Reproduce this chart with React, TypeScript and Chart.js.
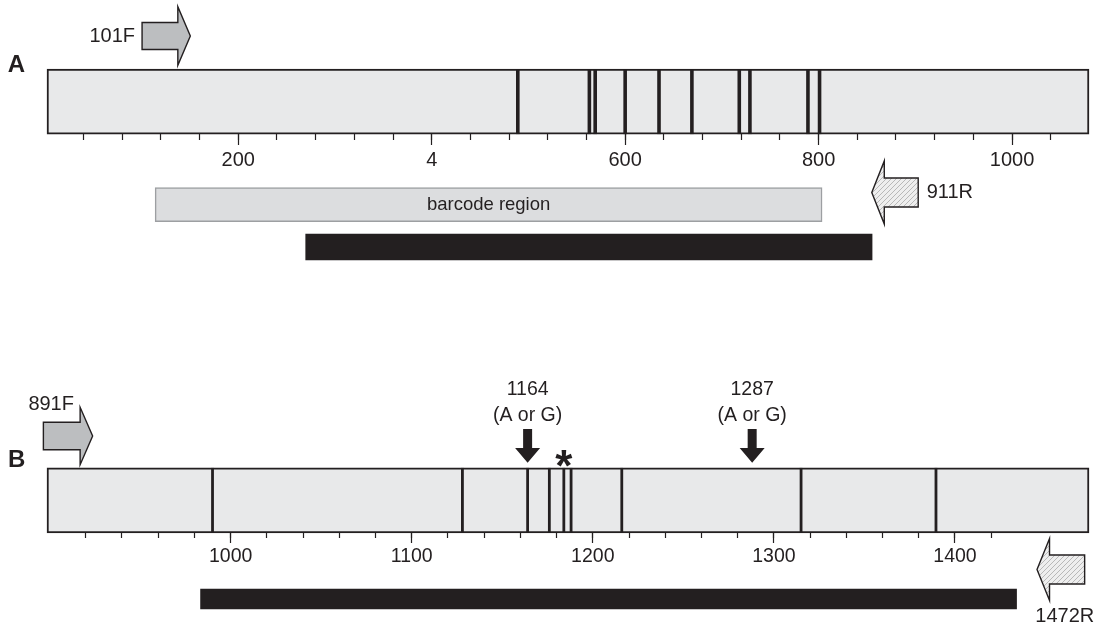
import React, { useEffect, useRef } from 'react';
import { Chart, registerables } from 'chart.js';

Chart.register(...registerables);

const W = 1103;
const H = 626;

// ---------- Panel A (positions in bp) ----------
const rangeA = [2.2, 1079.6];
const majorTicksA = [200, 400, 600, 800, 1000];
const tickLabelsA = ['200', '4', '600', '800', '1000'];
const minorStepA = 40;
const minorRangeA = [40, 1040];
const variantsA = [489, 563, 569, 600, 635, 669, 718, 729, 789, 801];
const barcodeRegionA = [114, 803.6];
const ampliconA = [269.7, 855.3];
const barcodeLabel = 'barcode region';

// ---------- Panel B (positions in bp) ----------
const rangeB = [898.6, 1474];
const majorTicksB = [1000, 1100, 1200, 1300, 1400];
const tickLabelsB = ['1000', '1100', '1200', '1300', '1400'];
const minorStepB = 20;
const minorRangeB = [920, 1420];
const variantsB = [990, 1128, 1164, 1176, 1184, 1188, 1216, 1315, 1389.5];
const ampliconB = [983.4, 1434];
const snpPositions = [1164, 1288];
const snpLabels = ['1164', '1287'];
const snpAlleles = ['(A or G)', '(A or G)'];
const asteriskPositions = [1184];

// ---------- Primers ----------
const primerNames = ['101F', '911R', '891F', '1472R'];
const primerPanels = ['A', 'A', 'B', 'B'];
const primerTails = [100.5, 903, 896.6, 1471.6];
const primerTips = [150.4, 855, 923.8, 1445.3];

// ---------- layout (pixels) ----------
const LAYOUT = {
  left: 47,
  right: 1089,
  A: { box: 101.6, axis: 134, barcode: 204.7, amplicon: 247, letterY: 65.5 },
  B: { box: 500.4, axis: 533, amplicon: 599, letterY: 460 },
  boxH: 65,
  barcodeH: 34,
  ampAH: 26,
  ampBH: 20,
  primerY: [36, 192.5, 436, 569.5],
  primerBodyH: [27, 29, 27.5, 29],
  primerHeadH: [58.5, 63, 57.5, 62],
  primerHeadL: 12.5,
};

const INK = '#231f20';
const BOX_FILL = '#e8e9ea';
const BARCODE_FILL = '#dcdddf';
const FWD_FILL = '#bcbec0';
const FONT = '"Liberation Sans", Arial, Helvetica, sans-serif';

function labelFor(v: number, ticks: number[], labels: string[]) {
  const i = ticks.indexOf(v);
  return i >= 0 ? labels[i] : '';
}

function makeHatch(ctx: CanvasRenderingContext2D) {
  const c = document.createElement('canvas');
  c.width = 5;
  c.height = 5;
  const g = c.getContext('2d')!;
  g.fillStyle = '#eeeeee';
  g.fillRect(0, 0, 5, 5);
  g.strokeStyle = '#b8b8b8';
  g.lineWidth = 1;
  g.beginPath();
  g.moveTo(0, 5); g.lineTo(5, 0);
  g.moveTo(-1, 1); g.lineTo(1, -1);
  g.moveTo(4, 6); g.lineTo(6, 4);
  g.stroke();
  return ctx.createPattern(c, 'repeat');
}

function drawPrimer(ctx: CanvasRenderingContext2D, tailX: number, tipX: number, yc: number,
  bodyH: number, headH: number, headL: number, fill: any) {
  const dir = Math.sign(tipX - tailX);
  const baseX = tipX - dir * headL;
  ctx.beginPath();
  ctx.moveTo(tailX, yc - bodyH / 2);
  ctx.lineTo(baseX, yc - bodyH / 2);
  ctx.lineTo(baseX, yc - headH / 2);
  ctx.lineTo(tipX, yc);
  ctx.lineTo(baseX, yc + headH / 2);
  ctx.lineTo(baseX, yc + bodyH / 2);
  ctx.lineTo(tailX, yc + bodyH / 2);
  ctx.closePath();
  ctx.fillStyle = fill;
  ctx.fill();
  ctx.lineWidth = 1.4;
  ctx.lineJoin = 'miter';
  ctx.strokeStyle = INK;
  ctx.stroke();
}

function drawDownArrow(ctx: CanvasRenderingContext2D, x: number, top: number, base: number, tip: number,
  bodyW: number, headW: number) {
  ctx.beginPath();
  ctx.moveTo(x - bodyW / 2, top);
  ctx.lineTo(x + bodyW / 2, top);
  ctx.lineTo(x + bodyW / 2, base);
  ctx.lineTo(x + headW / 2, base);
  ctx.lineTo(x, tip);
  ctx.lineTo(x - headW / 2, base);
  ctx.lineTo(x - bodyW / 2, base);
  ctx.closePath();
  ctx.fillStyle = INK;
  ctx.fill();
}

// Pin every scale to the intended plotting frame (axes are placed by value inside it).
const framePlugin = {
  id: 'frame',
  afterLayout(chart: any) {
    chart.chartArea = { left: LAYOUT.left, right: LAYOUT.right, top: 0, bottom: H, width: LAYOUT.right - LAYOUT.left, height: H };
    Object.values(chart.scales).forEach((s: any) => {
      if (s.isHorizontal()) {
        s.left = LAYOUT.left; s.right = LAYOUT.right; s.width = LAYOUT.right - LAYOUT.left;
      } else {
        s.top = 0; s.bottom = H; s.height = H;
      }
      s.configure();
    });
  },
};

const annotPlugin = {
  id: 'annotations',
  afterDatasetsDraw(chart: any) {
    const ctx: CanvasRenderingContext2D = chart.ctx;
    const y = chart.scales.y;
    const xA = chart.scales.xA;
    const xB = chart.scales.xB;
    ctx.save();
    ctx.fillStyle = INK;
    ctx.textBaseline = 'middle';

    // panel letters
    ctx.font = `bold 24px ${FONT}`;
    ctx.textAlign = 'center';
    ctx.fillText('A', 16.3, y.getPixelForValue(LAYOUT.A.letterY));
    ctx.fillText('B', 16.7, y.getPixelForValue(LAYOUT.B.letterY));

    // barcode label
    ctx.font = `18.5px ${FONT}`;
    ctx.fillText(barcodeLabel,
      (xA.getPixelForValue(barcodeRegionA[0]) + xA.getPixelForValue(barcodeRegionA[1])) / 2,
      y.getPixelForValue(LAYOUT.A.barcode));

    // primers
    const hatch = makeHatch(ctx);
    primerNames.forEach((name, i) => {
      const sc = primerPanels[i] === 'A' ? xA : xB;
      const tail = sc.getPixelForValue(primerTails[i]);
      const tip = sc.getPixelForValue(primerTips[i]);
      const yc = y.getPixelForValue(LAYOUT.primerY[i]);
      const fwd = tip > tail;
      drawPrimer(ctx, tail, tip, yc, LAYOUT.primerBodyH[i], LAYOUT.primerHeadH[i], LAYOUT.primerHeadL,
        fwd ? FWD_FILL : hatch);
      ctx.fillStyle = INK;
      ctx.font = `20px ${FONT}`;
      if (i === 0) {
        ctx.textAlign = 'right';
        ctx.fillText(name, tail - 7, yc);
      } else if (i === 1) {
        ctx.textAlign = 'left';
        ctx.fillText(name, tail + 8.5, yc);
      } else if (i === 2) {
        ctx.textAlign = 'left';
        ctx.fillText(name, tail - 15, yc - 32);
      } else {
        ctx.textAlign = 'center';
        ctx.fillText(name, (tail + tip) / 2 + 4, yc + 47);
      }
    });

    // SNP arrows
    snpPositions.forEach((p, i) => {
      const x = xB.getPixelForValue(p);
      drawDownArrow(ctx, x, y.getPixelForValue(429), y.getPixelForValue(448), y.getPixelForValue(462.7), 9, 25);
      ctx.fillStyle = INK;
      ctx.font = `19.5px ${FONT}`;
      ctx.textAlign = 'center';
      ctx.fillText(snpLabels[i], x, y.getPixelForValue(390));
      ctx.fillText(snpAlleles[i], x, y.getPixelForValue(415.5));
    });

    // asterisk
    ctx.font = `bold 44px ${FONT}`;
    ctx.textAlign = 'center';
    ctx.textBaseline = 'alphabetic';
    asteriskPositions.forEach((p) => {
      ctx.fillText('*', xB.getPixelForValue(p), y.getPixelForValue(456) + 25);
    });

    ctx.restore();
  },
};

function majorAxis(range: number[], ticks: number[], labels: string[], axisY: number, tickLen: number,
  fontSize: number, pad: number) {
  return {
    type: 'linear',
    axis: 'x',
    min: range[0],
    max: range[1],
    offset: false,
    beginAtZero: false,
    stacked: false,
    position: { y: axisY },
    border: { display: false },
    grid: { offset: false, drawOnChartArea: false, drawTicks: true, tickLength: tickLen, tickColor: INK, tickWidth: 1.2 },
    ticks: {
      autoSkip: false,
      maxRotation: 0,
      padding: pad,
      color: INK,
      font: { family: FONT, size: fontSize },
      callback: (v: number) => labelFor(v, ticks, labels),
    },
    afterBuildTicks: (s: any) => {
      s.ticks = ticks.map((v) => ({ value: v }));
    },
  };
}

function minorAxis(range: number[], step: number, keep: number[], axisY: number, tickLen: number) {
  return {
    type: 'linear',
    axis: 'x',
    min: range[0],
    max: range[1],
    offset: false,
    beginAtZero: false,
    stacked: false,
    position: { y: axisY },
    border: { display: false },
    grid: { offset: false, drawOnChartArea: false, drawTicks: true, tickLength: tickLen, tickColor: INK, tickWidth: 1.2 },
    ticks: { display: false, stepSize: step, includeBounds: false, autoSkip: false },
    afterBuildTicks: (s: any) => {
      s.ticks = s.ticks.filter((t: any) => t.value >= keep[0] - 0.01 && t.value <= keep[1] + 0.01);
    },
  };
}

const rowScale = () => ({
  type: 'linear', axis: 'y', min: 0, max: H, reverse: true, display: false, offset: false,
  grid: { offset: false }, ticks: { stepSize: H },
});

export default function App() {
  const ref = useRef<HTMLCanvasElement>(null);

  useEffect(() => {
    if (!ref.current) return;
    const barBase = { type: 'bar', indexAxis: 'y', yAxisID: 'y', grouped: false, borderSkipped: false, clip: false, order: 3,
      barPercentage: 1, categoryPercentage: 1 };
    const lineBase = {
      type: 'scatter', yAxisID: 'y', pointStyle: 'line', pointRotation: 90, pointRadius: LAYOUT.boxH / 2,
      pointHoverRadius: LAYOUT.boxH / 2, pointBorderColor: INK, pointBackgroundColor: INK, clip: false, order: 1,
    };
    const chart = new Chart(ref.current, {
      type: 'bar',
      data: {
        datasets: [
          { ...barBase, label: 'A sequence', xAxisID: 'xA', data: [{ x: rangeA, y: LAYOUT.A.box }],
            barThickness: LAYOUT.boxH, maxBarThickness: LAYOUT.boxH,
            backgroundColor: BOX_FILL, borderColor: INK, borderWidth: 2 },
          { ...barBase, label: 'barcode region', xAxisID: 'xA', data: [{ x: barcodeRegionA, y: LAYOUT.A.barcode }],
            barThickness: LAYOUT.barcodeH, maxBarThickness: LAYOUT.barcodeH,
            backgroundColor: BARCODE_FILL, borderColor: '#9d9fa2', borderWidth: 1.5 },
          { ...barBase, label: 'A amplicon', xAxisID: 'xA', data: [{ x: ampliconA, y: LAYOUT.A.amplicon }],
            barThickness: LAYOUT.ampAH, maxBarThickness: LAYOUT.ampAH,
            backgroundColor: INK, borderWidth: 0 },
          { ...barBase, label: 'B sequence', xAxisID: 'xB', data: [{ x: rangeB, y: LAYOUT.B.box }],
            barThickness: LAYOUT.boxH, maxBarThickness: LAYOUT.boxH,
            backgroundColor: BOX_FILL, borderColor: INK, borderWidth: 2 },
          { ...barBase, label: 'B amplicon', xAxisID: 'xB', data: [{ x: ampliconB, y: LAYOUT.B.amplicon }],
            barThickness: LAYOUT.ampBH, maxBarThickness: LAYOUT.ampBH,
            backgroundColor: INK, borderWidth: 0 },
          { ...lineBase, label: 'A variants', xAxisID: 'xA', data: variantsA.map((v) => ({ x: v, y: LAYOUT.A.box })), pointBorderWidth: 3.6 },
          { ...lineBase, label: 'B variants', xAxisID: 'xB', data: variantsB.map((v) => ({ x: v, y: LAYOUT.B.box })), pointBorderWidth: 2.8 },
        ] as any,
      },
      options: {
        responsive: false,
        animation: false,
        events: [],
        layout: { padding: 0 },
        plugins: { legend: { display: false }, tooltip: { enabled: false }, title: { display: false } },
        scales: {
          y: rowScale(),
          xAm: minorAxis(rangeA, minorStepA, minorRangeA, LAYOUT.A.axis, 6),
          xA: majorAxis(rangeA, majorTicksA, tickLabelsA, LAYOUT.A.axis, 11, 20, 3),
          xBm: minorAxis(rangeB, minorStepB, minorRangeB, LAYOUT.B.axis, 5),
          xB: majorAxis(rangeB, majorTicksB, tickLabelsB, LAYOUT.B.axis, 10, 19.5, 2),
        } as any,
      },
      plugins: [framePlugin, annotPlugin],
    } as any);
    return () => chart.destroy();
  }, []);

  return (
    <div style={{ position: 'fixed', left: 0, top: 0, width: W, height: H, background: '#fff' }}>
      <canvas ref={ref} width={W} height={H} style={{ display: 'block', width: W, height: H }} />
    </div>
  );
}
